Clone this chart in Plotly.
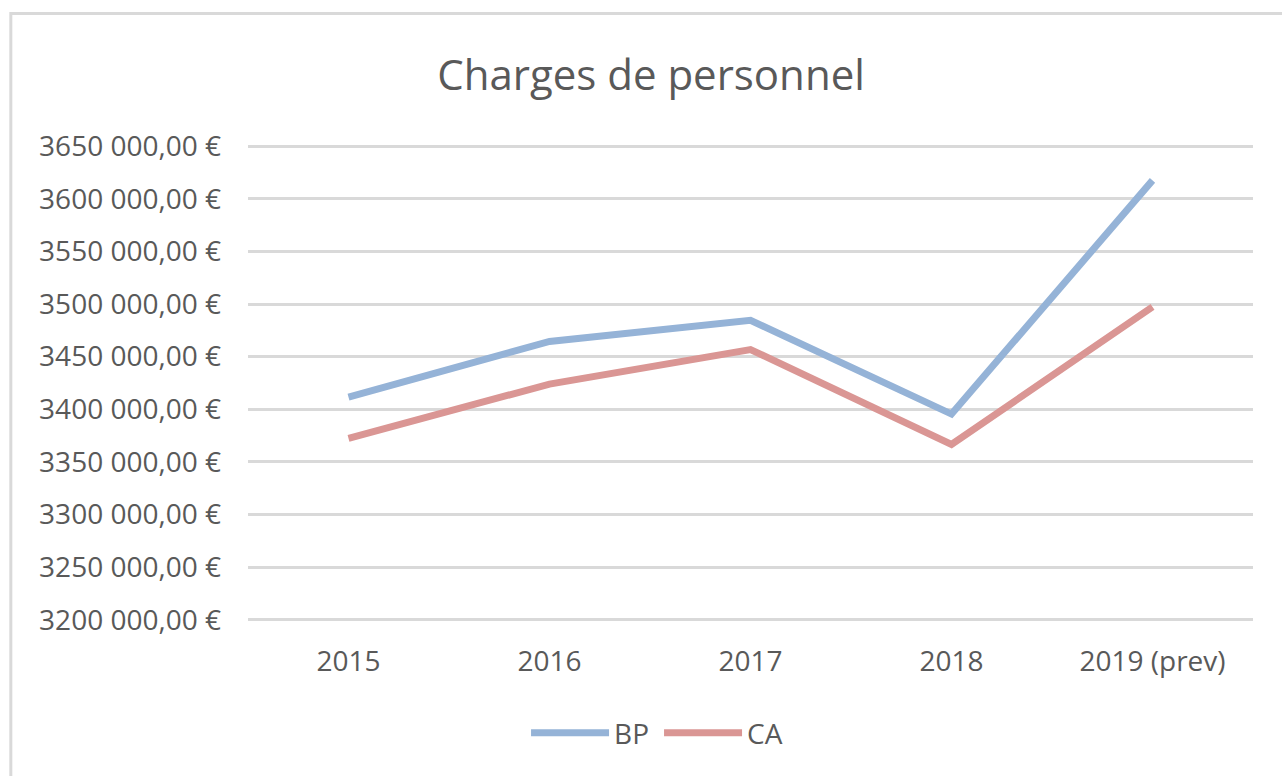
import plotly.graph_objects as go

categories = ["2015", "2016", "2017", "2018", "2019 (prev)"]
bp_values = [3411500, 3464500, 3484500, 3395500, 3617500]
ca_values = [3372300, 3424000, 3456800, 3366600, 3497300]
y_ticks = [3200000, 3250000, 3300000, 3350000, 3400000, 3450000, 3500000, 3550000, 3600000, 3650000]
y_tick_labels = ["3200 000,00 €", "3250 000,00 €", "3300 000,00 €", "3350 000,00 €", "3400 000,00 €",
                 "3450 000,00 €", "3500 000,00 €", "3550 000,00 €", "3600 000,00 €", "3650 000,00 €"]

FONT = "Open Sans"
TXT = "#595959"
GRID = "#D9D9D9"

fig = go.Figure()
fig.add_trace(go.Scatter(x=categories, y=bp_values, name="BP", mode="lines",
                         line=dict(color="#95B3D7", width=7)))
fig.add_trace(go.Scatter(x=categories, y=ca_values, name="CA", mode="lines",
                         line=dict(color="#DA9694", width=7)))

fig.update_layout(
    width=1282, height=776,
    margin=dict(l=248, r=29, t=143, b=153),
    paper_bgcolor="white", plot_bgcolor="white",
    font=dict(family=FONT, color=TXT, size=28),
    title=dict(text="Charges de personnel", font=dict(family=FONT, size=42, color=TXT),
               x=0.401, xref="paper", xanchor="center", y=1 - 75 / 776, yanchor="middle"),
    showlegend=True,
    legend=dict(orientation="h", x=0.409, xanchor="center", y=(623 - 733) / 480, yanchor="middle",
                font=dict(family=FONT, size=28, color=TXT), itemwidth=78,
                entrywidth=40, entrywidthmode="pixels",
                bgcolor="rgba(0,0,0,0)"),
    xaxis=dict(range=[-0.5, 4.5], showgrid=False, zeroline=False, showline=False, ticks="",
               automargin=False,
               tickfont=dict(family=FONT, size=28, color=TXT), ticklabelstandoff=19),
    yaxis=dict(range=[3197000, 3653000], tickvals=y_ticks, ticktext=y_tick_labels,
               automargin=False,
               showgrid=True, gridcolor=GRID, gridwidth=2.5, zeroline=False, showline=False,
               ticks="", tickfont=dict(family=FONT, size=28, color=TXT), ticklabelstandoff=26),
    shapes=[dict(type="rect", xref="paper", yref="paper",
                 x0=-0.236, x1=1.06, y0=-0.45, y1=(623 - 13.5) / 480,
                 line=dict(color=GRID, width=3), layer="below")],
)

fig.write_html("out.html", config={"displayModeBar": False},
               post_script="document.body.style.margin='0';document.body.style.padding='0';")
